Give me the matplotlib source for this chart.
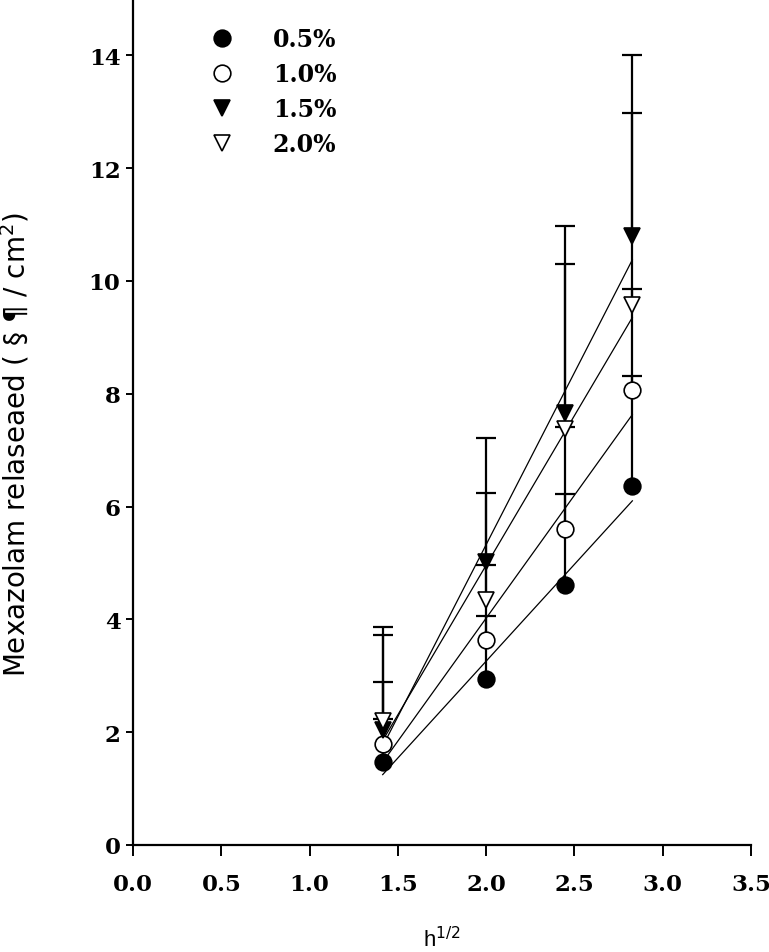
import numpy as np
import matplotlib.pyplot as plt

# sqrt(hours)
x = [1.414, 2.0, 2.449, 2.828]

labels = ['0.5%', '1.0%', '1.5%', '2.0%']
y05 = [1.48, 2.95, 4.61, 6.37]
y10 = [1.79, 3.64, 5.61, 8.06]
y15 = [2.04, 5.02, 7.66, 10.8]
y20 = [2.20, 4.35, 7.38, 9.58]

# upper error (SD), only drawn upwards
e05 = [0.76, 1.11, 1.62, 1.95]
e10 = [1.10, 1.33, 1.80, 1.79]
e15 = [1.83, 2.20, 3.31, 3.20]
e20 = [1.53, 1.89, 2.93, 3.39]

series = [y05, y10, y15, y20]
errs = [e05, e10, e15, e20]
markers = ['o', 'o', 'v', 'v']
faces = ['black', 'white', 'black', 'white']

fig = plt.figure(figsize=(7.69, 9.53), dpi=100)
ax = fig.add_axes([0.173, 0.1123, 0.8036, 0.8877])

tickfont = {'family': 'DejaVu Serif', 'weight': 'bold', 'size': 16.5}

xs = np.array(x)
for y, e, m, fc, lab in zip(series, errs, markers, faces, labels):
    ys = np.array(y)
    top = ys + np.array(e)
    ax.vlines(xs, ys, top, color='black', lw=1.6, zorder=2)
    ax.plot(xs, top, ls='none', marker='_', markersize=14, mew=1.6,
            color='black', zorder=2)
    k, b = np.polyfit(xs, ys, 1)
    ax.plot(xs[[0, -1]], k * xs[[0, -1]] + b, color='black', lw=0.9, zorder=3)
    ax.plot(xs, ys, linestyle='none', marker=m, markersize=12, markerfacecolor=fc,
            markeredgecolor='black', markeredgewidth=1.2, label=lab, zorder=4)

ax.set_xlim(0, 3.5)
ax.set_ylim(0, 15)
xt = np.arange(0, 3.51, 0.5)
ax.set_xticks(xt)
ax.set_yticks(np.arange(0, 15, 2))
ax.set_xticklabels(['%.1f' % v for v in xt], fontdict=tickfont)
ax.set_yticklabels([str(v) for v in range(0, 15, 2)], fontdict=tickfont)
ax.spines['top'].set_visible(False)
ax.spines['right'].set_visible(False)
ax.spines['left'].set_linewidth(1.6)
ax.spines['bottom'].set_linewidth(1.6)
ax.tick_params(axis='x', direction='out', length=8, width=1.4, pad=12)
ax.tick_params(axis='y', direction='out', length=5, width=1.4, pad=4)

ax.set_xlabel('h$^{1/2}$', family='Liberation Sans', fontsize=16)
ax.xaxis.set_label_coords(0.5, -0.096)
ax.set_ylabel('Mexazolam relaseaed ( § ¶ / cm$^2$)', family='DejaVu Sans',
              fontsize=20)
ax.yaxis.set_label_coords(-0.165, 0.474)

ax.legend(loc='upper left', bbox_to_anchor=(0.081, 0.992), frameon=False,
          prop={'family': 'DejaVu Serif', 'weight': 'bold', 'size': 17},
          handletextpad=1.4, labelspacing=0.47, handlelength=1.5)

fig.savefig('out.png', dpi=100)
